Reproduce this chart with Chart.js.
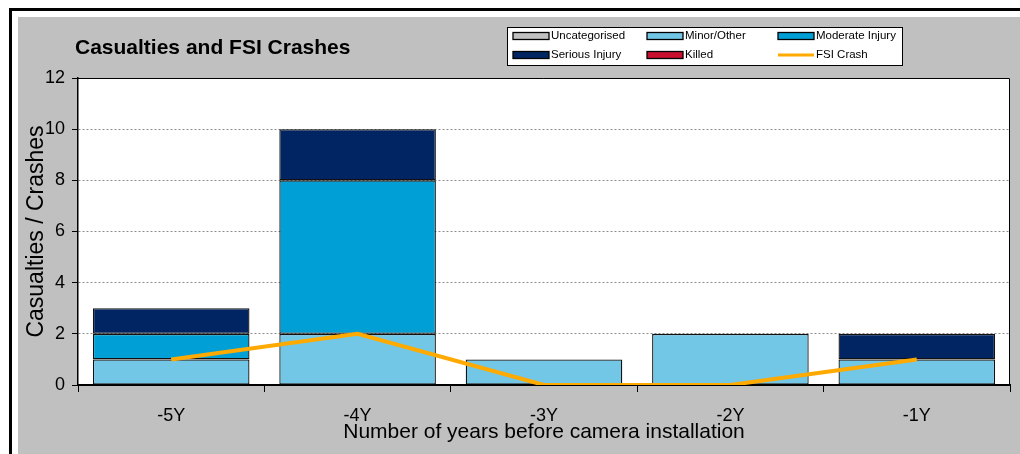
<!DOCTYPE html>
<html>
<head>
<meta charset="utf-8">
<script src="https://cdn.jsdelivr.net/npm/chart.js@4.4.1/dist/chart.umd.min.js"></script>
<style>
  html, body { margin: 0; padding: 0; background: #fff; overflow: hidden; }
  canvas { display: block; }
</style>
</head>
<body>
<canvas id="crashChart" width="1020" height="454"></canvas>
<script>
// values
const years = ["-5Y", "-4Y", "-3Y", "-2Y", "-1Y"];
const uncategorised = [0, 0, 0, 0, 0];
const minorOther = [1, 2, 1, 2, 1];
const moderateInjury = [1, 6, 0, 0, 0];
const seriousInjury = [1, 2, 0, 0, 1];
const killed = [0, 0, 0, 0, 0];
const fsiCrash = [1, 2, 0, 0, 1];
const yTicks = [0, 2, 4, 6, 8, 10, 12];

const FONT = "'Liberation Sans', Arial, sans-serif";

function barSet(label, data, color) {
  return {
    type: "bar",
    label: label,
    data: data,
    backgroundColor: color,
    borderColor: "#111",
    borderWidth: ctx => (ctx.raw ? 1.3 : 0),
    borderSkipped: false,
    stack: "cas",
    order: 1,
    barPercentage: 0.84,
    categoryPercentage: 1
  };
}

// grey frame, plot area and title
const backdrop = {
  id: "backdrop",
  beforeDraw(chart) {
    const { ctx, width, height, chartArea } = chart;
    ctx.save();
    ctx.fillStyle = "#fff";
    ctx.fillRect(0, 0, width, height);
    ctx.fillStyle = "#000";
    ctx.fillRect(10, 8, width - 10, 3);
    ctx.fillRect(9, 8, 3, height - 8);
    ctx.fillStyle = "#c0c0c0";
    ctx.fillRect(18, 17, width - 18, height - 17);
    ctx.fillStyle = "#fff";
    ctx.fillRect(chartArea.left, chartArea.top, chartArea.right - chartArea.left, chartArea.bottom - chartArea.top);

    ctx.fillStyle = "#000";
    ctx.font = "bold 21px " + FONT;
    ctx.textBaseline = "middle";
    ctx.fillText("Casualties and FSI Crashes", 75, 48);
    ctx.restore();
  },
  afterDatasetsDraw(chart) {
    const { ctx, chartArea } = chart;
    ctx.save();
    ctx.strokeStyle = "#000";
    ctx.lineWidth = 1;
    ctx.beginPath();
    ctx.moveTo(chartArea.left, chartArea.top + 0.5);
    ctx.lineTo(chartArea.right - 0.5, chartArea.top + 0.5);
    ctx.lineTo(chartArea.right - 0.5, chartArea.bottom);
    ctx.stroke();
    ctx.restore();
  }
};

// boxed legend, 3 columns x 2 rows
const boxLegend = {
  id: "boxLegend",
  afterDraw(chart) {
    const { ctx } = chart;
    const bx = 507, by = 27, bw = 395, bh = 38;
    ctx.save();
    ctx.fillStyle = "#fff";
    ctx.fillRect(bx, by, bw, bh);
    ctx.strokeStyle = "#000";
    ctx.lineWidth = 1;
    ctx.strokeRect(bx + 0.5, by + 0.5, bw, bh);

    const colX = [513, 647, 778];
    const rowY = [36, 55];
    ctx.font = "11.5px " + FONT;
    ctx.textBaseline = "middle";
    chart.data.datasets.forEach((ds, i) => {
      const x = colX[i % 3];
      const y = rowY[Math.floor(i / 3)];
      if (ds.type === "line") {
        ctx.fillStyle = ds.borderColor;
        ctx.fillRect(x, y - 1.5, 36, 3);
      } else {
        ctx.fillStyle = ds.backgroundColor;
        ctx.fillRect(x, y - 3.5, 36, 7);
        ctx.strokeStyle = "#000";
        ctx.lineWidth = 1.3;
        ctx.strokeRect(x, y - 3.5, 36, 7);
      }
      ctx.fillStyle = "#000";
      ctx.fillText(ds.label, x + 38, y);
    });
    ctx.restore();
  }
};

new Chart(document.getElementById("crashChart"), {
  data: {
    labels: years,
    datasets: [
      barSet("Uncategorised", uncategorised, "#c0c0c0"),
      barSet("Minor/Other", minorOther, "#72c6e6"),
      barSet("Moderate Injury", moderateInjury, "#00a0d6"),
      barSet("Serious Injury", seriousInjury, "#002562"),
      barSet("Killed", killed, "#c8102e"),
      {
        type: "line",
        label: "FSI Crash",
        data: fsiCrash,
        borderColor: "#ffaa00",
        borderWidth: 4,
        pointRadius: 0,
        fill: false,
        tension: 0,
        stack: "fsi",
        order: 0
      }
    ]
  },
  options: {
    responsive: false,
    devicePixelRatio: 1,
    animation: false,
    layout: { padding: { left: 0, top: 78, right: 10, bottom: 0 } },
    plugins: {
      legend: { display: false },
      tooltip: { enabled: false }
    },
    scales: {
      x: {
        stacked: true,
        offset: true,
        grid: { offset: true, drawOnChartArea: false, drawTicks: true, tickLength: 7, tickColor: "#000", color: "#000" },
        border: { color: "#000", width: 2 },
        ticks: { color: "#000", font: { family: FONT, size: 18 }, padding: 13, maxRotation: 0 },
        title: {
          display: true,
          text: "Number of years before camera installation",
          color: "#000",
          font: { family: FONT, size: 21 },
          padding: { top: 0, bottom: 9 }
        },
        afterFit: s => { s.height = 69; }
      },
      y: {
        stacked: true,
        min: 0,
        max: 12,
        afterBuildTicks: s => { s.ticks = yTicks.map(v => ({ value: v })); },
        grid: { color: "#8c8c8c", tickColor: "#000", tickLength: 6, lineWidth: 1 },
        border: { color: "#000", width: 1.5, dash: [2, 2] },
        ticks: { color: "#000", font: { family: FONT, size: 18 }, padding: 7 },
        title: {
          display: true,
          text: "Casualties / Crashes",
          color: "#000",
          font: { family: FONT, size: 23 },
          padding: { top: 23, bottom: 0 }
        },
        afterFit: s => { s.width = 78; }
      }
    }
  },
  plugins: [backdrop, boxLegend]
});
</script>
</body>
</html>
